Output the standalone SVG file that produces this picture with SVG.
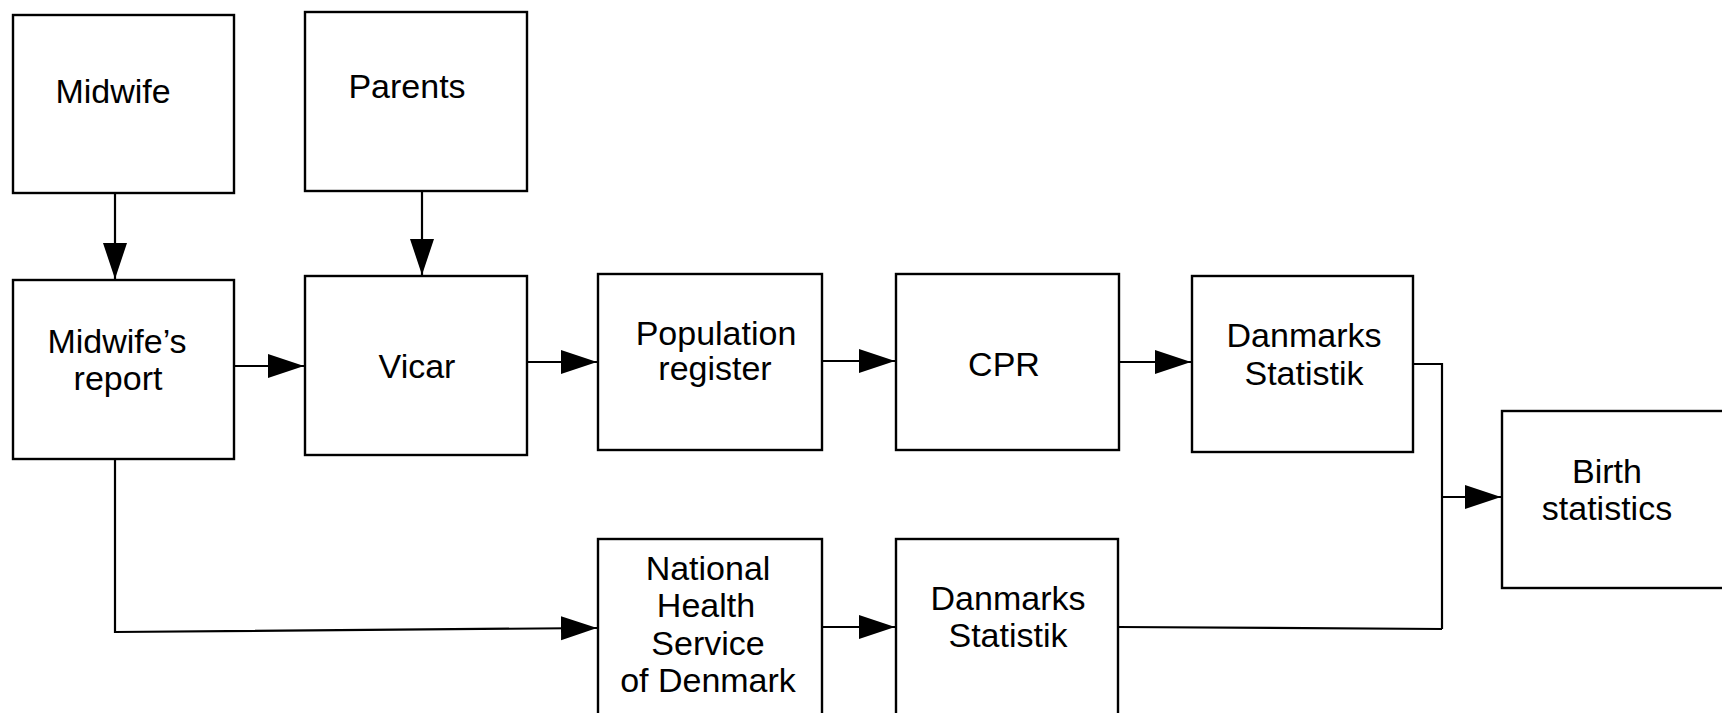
<svg xmlns="http://www.w3.org/2000/svg" width="1722" height="713" viewBox="0 0 1722 713">
<defs>
<style>
.box{fill:#fff;stroke:#000;stroke-width:2.4}
.lbl{font-family:"Liberation Sans",Arial,sans-serif;font-size:34px;fill:#000;text-anchor:middle}
.con{fill:none;stroke:#000;stroke-width:2.2}
</style>
<marker id="ah" markerUnits="userSpaceOnUse" markerWidth="40" markerHeight="26" refX="36" refY="12" orient="auto">
<path d="M0,0 L36,12 L0,24 z" fill="#000"/>
</marker>
</defs>
<rect width="1722" height="713" fill="#fff"/>
<g id="connectors">
<path class="con" d="M115,193 V279" marker-end="url(#ah)"/>
<path class="con" d="M422,191 V275" marker-end="url(#ah)"/>
<path class="con" d="M234,366 H304" marker-end="url(#ah)"/>
<path class="con" d="M527,362 H597" marker-end="url(#ah)"/>
<path class="con" d="M822,361 H895" marker-end="url(#ah)"/>
<path class="con" d="M1119,362 H1191" marker-end="url(#ah)"/>
<path class="con" d="M1413,364 H1442 V629"/>
<path class="con" d="M1118,627 L1442,629"/>
<path class="con" d="M1442,497 H1501" marker-end="url(#ah)"/>
<path class="con" d="M115,458 V632 L597,628" marker-end="url(#ah)"/>
<path class="con" d="M822,627 H895" marker-end="url(#ah)"/>
</g>
<g id="midwife"><rect class="box" x="13" y="15" width="221" height="178"/><text class="lbl" x="113" y="103">Midwife</text></g>
<g id="parents"><rect class="box" x="305" y="12" width="222" height="179"/><text class="lbl" x="407" y="98">Parents</text></g>
<g id="midwife-report"><rect class="box" x="13" y="280" width="221" height="179"/><text class="lbl" x="117" y="353">Midwife’s</text><text class="lbl" x="118" y="390">report</text></g>
<g id="vicar"><rect class="box" x="305" y="276" width="222" height="179"/><text class="lbl" x="417" y="378">Vicar</text></g>
<g id="population-register"><rect class="box" x="598" y="274" width="224" height="176"/><text class="lbl" x="716" y="345">Population</text><text class="lbl" x="715" y="380">register</text></g>
<g id="cpr"><rect class="box" x="896" y="274" width="223" height="176"/><text class="lbl" x="1004" y="376">CPR</text></g>
<g id="danmarks-statistik-1"><rect class="box" x="1192" y="276" width="221" height="176"/><text class="lbl" x="1304" y="347">Danmarks</text><text class="lbl" x="1304" y="385">Statistik</text></g>
<g id="birth-statistics"><rect class="box" x="1502" y="411" width="240" height="177"/><text class="lbl" x="1607" y="483">Birth</text><text class="lbl" x="1607" y="520">statistics</text></g>
<g id="national-health"><rect class="box" x="598" y="539" width="224" height="200"/><text class="lbl" x="708" y="580">National</text><text class="lbl" x="706" y="617">Health</text><text class="lbl" x="708" y="655">Service</text><text class="lbl" x="708" y="692">of Denmark</text></g>
<g id="danmarks-statistik-2"><rect class="box" x="896" y="539" width="222" height="200"/><text class="lbl" x="1008" y="610">Danmarks</text><text class="lbl" x="1008" y="647">Statistik</text></g>
</svg>
